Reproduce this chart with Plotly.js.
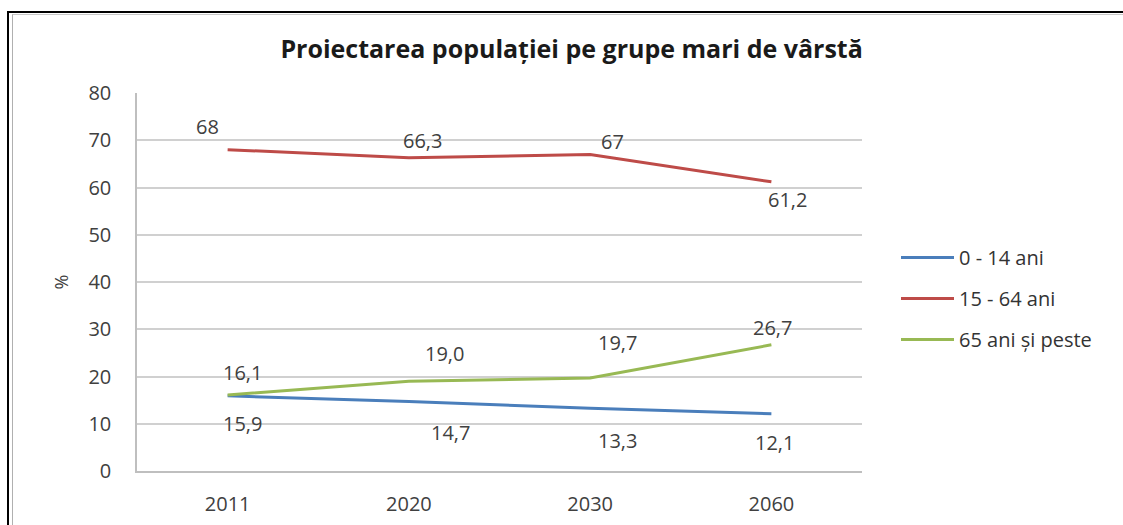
<!DOCTYPE html>
<html>
<head>
<meta charset="utf-8">
<script src="https://cdn.plot.ly/plotly-3.0.1.min.js"></script>
<style>
  html, body { margin: 0; padding: 0; background: #ffffff; overflow: hidden; }
  #wrap { position: relative; width: 1123px; height: 525px; }
  #chart { position: absolute; left: 0; top: 0; width: 1123px; height: 525px; }
  #frame1 { position: absolute; left: 7px; top: 11px; width: 1300px; height: 700px;
            border-left: 2px solid #000; border-top: 2px solid #000; pointer-events: none; }
  #frame2 { position: absolute; left: 12px; top: 14px; width: 1300px; height: 700px;
            border-left: 1px solid #b0b0b0; border-top: 1px solid #c8c8c8; pointer-events: none; }
</style>
</head>
<body>
<div id="wrap">
  <div id="chart"></div>
  <div id="frame1"></div>
  <div id="frame2"></div>
</div>
<script>
// ---- data ----
var categories = ['2011', '2020', '2030', '2060'];
var seriesNames = ['0 - 14 ani', '15 - 64 ani', '65 ani și peste'];
var values0_14 = [15.9, 14.7, 13.3, 12.1];
var values15_64 = [68, 66.3, 67, 61.2];
var values65 = [16.1, 19.0, 19.7, 26.7];
var labels0_14 = ['15,9', '14,7', '13,3', '12,1'];
var labels15_64 = ['68', '66,3', '67', '61,2'];
var labels65 = ['16,1', '19,0', '19,7', '26,7'];
var yTicks = [0, 10, 20, 30, 40, 50, 60, 70, 80];

// ---- styling ----
var FONT = '"Open Sans", Lato, sans-serif';
var colors = ['#4A7EBB', '#BE4B48', '#98B954'];
var labelShifts = [
  [[15, -28], [42, -31], [27, -32], [3, -29]],
  [[-20, 23], [14, 17], [22, 13], [16, -18]],
  [[15, 22], [36, 28], [27, 35], [1, 17]]
];

var allValues = [values0_14, values15_64, values65];
var allLabels = [labels0_14, labels15_64, labels65];

var traces = allValues.map(function (vals, i) {
  return {
    type: 'scatter',
    mode: 'lines',
    x: categories,
    y: vals,
    name: seriesNames[i],
    legendgroup: 'g' + i,
    line: { color: colors[i], width: 3 },
    hoverinfo: 'x+y'
  };
});

var annotations = [];
allValues.forEach(function (vals, i) {
  vals.forEach(function (v, j) {
    annotations.push({
      x: j, y: v, xref: 'x', yref: 'y',
      text: allLabels[i][j], showarrow: false,
      xanchor: 'center', yanchor: 'middle',
      xshift: labelShifts[i][j][0], yshift: labelShifts[i][j][1],
      font: { family: FONT, size: 20, color: '#404040' }
    });
  });
});

var layout = {
  width: 1123, height: 525,
  margin: { l: 137, r: 261, t: 93, b: 54 },
  paper_bgcolor: '#ffffff', plot_bgcolor: '#ffffff',
  font: { family: FONT, color: '#404040', size: 20 },
  title: {
    text: 'Proiectarea populației pe grupe mari de vârstă',
    font: { family: FONT, size: 25, color: '#1a1a1a', weight: 'bold' },
    x: 0.509, xanchor: 'center', y: 1 - 49 / 525, yanchor: 'middle', yref: 'container'
  },
  xaxis: {
    type: 'category', range: [-0.5, 3.5],
    showgrid: false, zeroline: false,
    showline: true, linecolor: '#BFBFBF', linewidth: 1.5,
    ticks: 'outside', ticklen: 14, tickcolor: 'rgba(0,0,0,0)',
    tickfont: { family: FONT, size: 20, color: '#404040' },
    fixedrange: true
  },
  yaxis: {
    range: [0, 80], tickvals: yTicks,
    showgrid: true, gridcolor: '#D0D0D0', gridwidth: 1.5,
    zeroline: false,
    showline: true, linecolor: '#BFBFBF', linewidth: 1.5,
    ticks: 'outside', ticklen: 20, tickcolor: 'rgba(0,0,0,0)',
    tickfont: { family: FONT, size: 20, color: '#404040' },
    title: { text: '%', standoff: 15, font: { family: FONT, size: 18, color: '#404040' } },
    fixedrange: true
  },
  showlegend: true,
  legend: {
    x: (896 - 137) / 725, xanchor: 'left',
    y: 1 - (238 - 93) / 378, yanchor: 'top',
    font: { family: FONT, size: 20, color: '#333333' },
    bgcolor: 'rgba(0,0,0,0)', borderwidth: 0,
    traceorder: 'grouped', tracegroupgap: 12,
    itemwidth: 53
  },
  annotations: annotations
};

Plotly.newPlot('chart', traces, layout, { displayModeBar: false, staticPlot: false });
</script>
</body>
</html>
